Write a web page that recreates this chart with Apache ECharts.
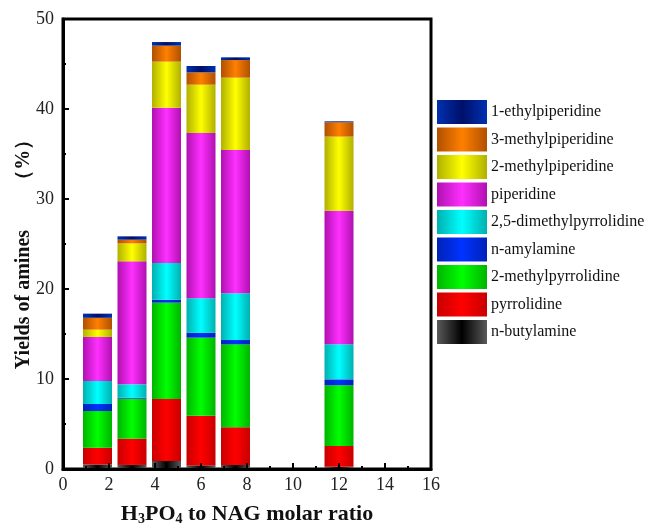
<!DOCTYPE html>
<html>
<head>
<meta charset="utf-8">
<script src="https://cdn.jsdelivr.net/npm/echarts@6/dist/echarts.min.js"></script>
<style>
  html, body { margin: 0; padding: 0; background: #fff; }
  #chart { width: 646px; height: 532px; }
</style>
</head>
<body>
<div id="chart"></div>
<script>
// H3PO4 : NAG molar ratios of the runs
const ratios = [1.5, 3, 4.5, 6, 7.5, 12];

// Amine yields (%) for each run, stacked bottom to top
const nButylamine        = [0.50, 0.45, 0.90, 0.40, 0.45, 0.25];
const pyrrolidine        = [1.87, 2.92, 6.88, 5.53, 4.18, 2.31];
const methylPyrrolidine  = [4.07, 4.44, 10.70, 8.66, 9.22, 6.74];
const nAmylamine         = [0.78, 0.12, 0.33, 0.56, 0.48, 0.66];
const dimethylPyrrolidine= [2.56, 1.48, 4.08, 3.81, 5.19, 3.89];
const piperidine         = [4.89, 13.66, 17.26, 18.37, 15.92, 14.85];
const methylPiperidine2  = [0.81, 2.00, 5.11, 5.37, 8.04, 8.23];
const methylPiperidine3  = [1.32, 0.41, 1.78, 1.37, 1.96, 1.59];
const ethylPiperidine    = [0.46, 0.37, 0.40, 0.71, 0.30, 0.11];

const xTicks = [0, 2, 4, 6, 8, 10, 12, 14, 16];
const yTicks = [0, 10, 20, 30, 40, 50];

// cylinder-like shading: darker edges, bright centre
function cyl(edge, mid) {
  return {
    type: 'linear', x: 0, y: 0, x2: 1, y2: 0,
    colorStops: [
      { offset: 0, color: edge },
      { offset: 0.5, color: mid },
      { offset: 1, color: edge }
    ]
  };
}

const layers = [
  { name: 'n-butylamine', values: nButylamine, color: cyl('#5a5a5a', '#000000') },
  { name: 'pyrrolidine', values: pyrrolidine, color: cyl('#c80000', '#ff0000') },
  { name: '2-methylpyrrolidine', values: methylPyrrolidine, color: cyl('#00b400', '#00ff00') },
  { name: 'n-amylamine', values: nAmylamine, color: cyl('#0022b8', '#0033ff') },
  { name: '2,5-dimethylpyrrolidine', values: dimethylPyrrolidine, color: cyl('#00b0b0', '#00ffff') },
  { name: 'piperidine', values: piperidine, color: cyl('#b010b0', '#ff30ff') },
  { name: '2-methylpiperidine', values: methylPiperidine2, color: cyl('#b0b000', '#ffff00') },
  { name: '3-methylpiperidine', values: methylPiperidine3, color: cyl('#b05000', '#ff8000') },
  { name: '1-ethylpiperidine', values: ethylPiperidine, color: cyl('#0030b0', '#00106a') }
];

const serif = 'Liberation Serif';

// yield goes in the first dimension so that the stack is built on it
const series = layers.map(l => ({
  name: l.name,
  type: 'bar',
  stack: 'total',
  barWidth: 29,
  encode: { x: 1, y: 0 },
  itemStyle: { color: l.color },
  data: ratios.map((r, i) => [l.values[i], r])
}));

const chart = echarts.init(document.getElementById('chart'), null, { renderer: 'canvas' });
chart.setOption({
  animation: false,
  backgroundColor: '#fff',
  grid: {
    left: 63, top: 19, width: 368, height: 450,
    outerBoundsMode: 'none', containLabel: false,
    show: true, borderColor: '#000', borderWidth: 3, backgroundColor: 'transparent'
  },
  legend: {
    orient: 'vertical',
    left: 437, top: 100, padding: 0,
    itemWidth: 50, itemHeight: 24, itemGap: 3.5,
    icon: 'rect',
    data: layers.map(l => l.name).reverse(),
    textStyle: { fontFamily: serif, fontSize: 16, color: '#111', padding: [0, 0, 0, -1] }
  },
  xAxis: {
    type: 'value', min: 0, max: 16, interval: 2,
    name: '{b|H}{s|3}{b|PO}{s|4}{b| to NAG molar ratio}',
    nameLocation: 'middle', nameGap: 34, nameMoveOverlap: false,
    nameTextStyle: {
      rich: {
        b: { fontFamily: serif, fontWeight: 'bold', fontSize: 22, color: '#111' },
        s: { fontFamily: serif, fontWeight: 'bold', fontSize: 14, color: '#111', verticalAlign: 'bottom', padding: [9, 0, 0, 0] }
      }
    },
    z: 3,
    axisLine: { show: true, onZero: false, lineStyle: { color: '#000', width: 3 } },
    axisTick: { show: true, inside: true, length: 6, lineStyle: { color: '#000', width: 2 } },
    minorTick: { show: true, splitNumber: 2, length: 3, lineStyle: { color: '#000', width: 2 } },
    splitLine: { show: false },
    axisLabel: {
      fontFamily: serif, fontSize: 18, color: '#222', margin: 7,
      formatter: v => xTicks.includes(v) ? String(v) : ''
    }
  },
  yAxis: {
    type: 'value', min: 0, max: 50, interval: 10,
    name: 'Yields of amines\u3000\u3000（%）',
    nameLocation: 'middle', nameGap: 29, nameMoveOverlap: false,
    nameTextStyle: { fontFamily: serif, fontWeight: 'bold', fontSize: 20, color: '#111', padding: [0, 11, 0, 0] },
    z: 3,
    axisLine: { show: true, onZero: false, lineStyle: { color: '#000', width: 3 } },
    axisTick: { show: true, inside: true, length: 6, lineStyle: { color: '#000', width: 2 } },
    minorTick: { show: true, splitNumber: 2, length: 3, lineStyle: { color: '#000', width: 2 } },
    splitLine: { show: false },
    axisLabel: {
      fontFamily: serif, fontSize: 18, color: '#222', margin: 9,
      formatter: v => yTicks.includes(v) ? String(v) : ''
    }
  },
  series: series
});
</script>
</body>
</html>
